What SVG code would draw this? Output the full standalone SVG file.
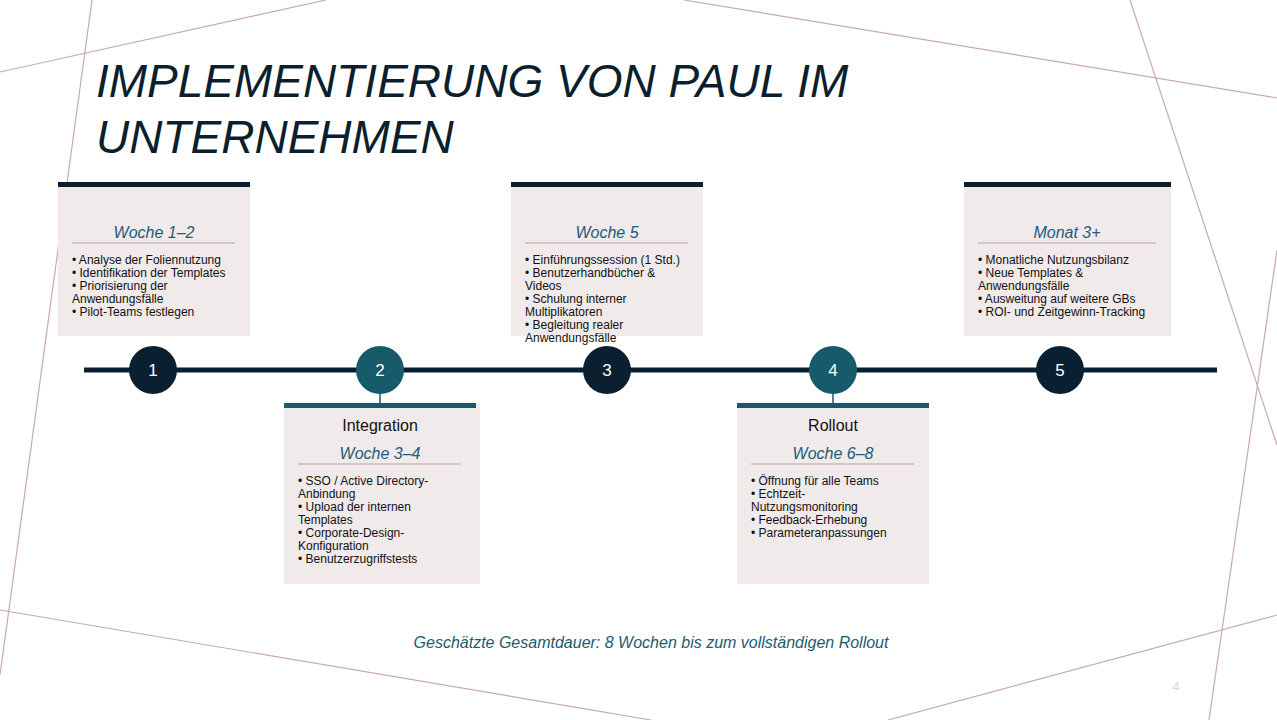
<svg xmlns="http://www.w3.org/2000/svg" width="1277" height="720" viewBox="0 0 1277 720">
<style>
.deco{stroke:#c9a9b2;stroke-width:1.2;fill:none}
.card{fill:#f0eaea}
.sep{stroke:#c39ea6;stroke-width:1}
.wk{font-family:"Liberation Sans",Arial,sans-serif;font-size:16px;font-style:italic;fill:#1e5b78;text-anchor:middle}
.ti{font-family:"Liberation Sans",Arial,sans-serif;font-size:16px;fill:#111;text-anchor:middle}
.b{font-family:"Liberation Sans",Arial,sans-serif;font-size:12px;fill:#111}
.num{font-family:"Liberation Sans",Arial,sans-serif;font-size:17px;fill:#fff;text-anchor:middle}
</style>
<rect width="1277" height="720" fill="#fff"/>
<g id="decor">
<line class="deco" x1="0" y1="72" x2="326" y2="0"/>
<line class="deco" x1="92" y1="0" x2="0" y2="675"/>
<line class="deco" x1="684" y1="0" x2="1277" y2="98"/>
<line class="deco" x1="1130" y1="0" x2="1277" y2="445"/>
<line class="deco" x1="0" y1="610" x2="651" y2="720"/>
<line class="deco" x1="888" y1="720" x2="1277" y2="615"/>
<line class="deco" x1="1277" y1="250" x2="1209" y2="720"/>
</g>
<text x="96" y="97" font-family="Liberation Sans,Arial,sans-serif" font-size="46" font-style="italic" fill="#0b1f2e">IMPLEMENTIERUNG VON PAUL IM</text>
<text x="96" y="153" font-family="Liberation Sans,Arial,sans-serif" font-size="46" font-style="italic" fill="#0b1f2e">UNTERNEHMEN</text>
<g id="connectors">
<line x1="84" y1="370" x2="1217" y2="370" stroke="#0a2030" stroke-width="5"/>
<line x1="380" y1="390" x2="380" y2="405" stroke="#175a6a" stroke-width="1.5"/>
<line x1="833" y1="390" x2="833" y2="405" stroke="#175a6a" stroke-width="1.5"/>
</g>
<g id="card1">
<rect class="card" x="58" y="182" width="192" height="154"/>
<rect x="58" y="182" width="192" height="5" fill="#0a2030"/>
<text class="wk" x="154" y="238">Woche 1–2</text>
<line class="sep" x1="72" y1="243" x2="235" y2="243"/>
<text class="b" x="72" y="264"> • Analyse der Foliennutzung</text>
<text class="b" x="72" y="277"> • Identifikation der Templates</text>
<text class="b" x="72" y="290"> • Priorisierung der</text>
<text class="b" x="72" y="303">Anwendungsfälle</text>
<text class="b" x="72" y="316"> • Pilot-Teams festlegen</text>
</g>
<g id="card3">
<rect class="card" x="511" y="182" width="192" height="154"/>
<rect x="511" y="182" width="192" height="5" fill="#0a2030"/>
<text class="wk" x="607" y="238">Woche 5</text>
<line class="sep" x1="525" y1="243" x2="688" y2="243"/>
<text class="b" x="525" y="264"> • Einführungssession (1 Std.)</text>
<text class="b" x="525" y="277"> • Benutzerhandbücher &amp;</text>
<text class="b" x="525" y="290">Videos</text>
<text class="b" x="525" y="303"> • Schulung interner</text>
<text class="b" x="525" y="316">Multiplikatoren</text>
<text class="b" x="525" y="329"> • Begleitung realer</text>
<text class="b" x="525" y="342">Anwendungsfälle</text>
</g>
<g id="card5">
<rect class="card" x="964" y="182" width="207" height="154"/>
<rect x="964" y="182" width="207" height="5" fill="#0a2030"/>
<text class="wk" x="1067" y="238">Monat 3+</text>
<line class="sep" x1="978" y1="243" x2="1156" y2="243"/>
<text class="b" x="978" y="264"> • Monatliche Nutzungsbilanz</text>
<text class="b" x="978" y="277"> • Neue Templates &amp;</text>
<text class="b" x="978" y="290">Anwendungsfälle</text>
<text class="b" x="978" y="303"> • Ausweitung auf weitere GBs</text>
<text class="b" x="978" y="316"> • ROI- und Zeitgewinn-Tracking</text>
</g>
<g id="card2">
<rect class="card" x="284" y="403" width="196" height="181"/>
<rect x="284" y="403" width="192" height="5" fill="#175a6a"/>
<text class="ti" x="380" y="431">Integration</text>
<text class="wk" x="380" y="459">Woche 3–4</text>
<line class="sep" x1="298" y1="464" x2="461" y2="464"/>
<text class="b" x="298" y="485"> • SSO / Active Directory-</text>
<text class="b" x="298" y="498">Anbindung</text>
<text class="b" x="298" y="511"> • Upload der internen</text>
<text class="b" x="298" y="524">Templates</text>
<text class="b" x="298" y="537"> • Corporate-Design-</text>
<text class="b" x="298" y="550">Konfiguration</text>
<text class="b" x="298" y="563"> • Benutzerzugriffstests</text>
</g>
<g id="card4">
<rect class="card" x="737" y="403" width="192" height="181"/>
<rect x="737" y="403" width="192" height="5" fill="#175a6a"/>
<text class="ti" x="833" y="431">Rollout</text>
<text class="wk" x="833" y="459">Woche 6–8</text>
<line class="sep" x1="751" y1="464" x2="914" y2="464"/>
<text class="b" x="751" y="485"> • Öffnung für alle Teams</text>
<text class="b" x="751" y="498"> • Echtzeit-</text>
<text class="b" x="751" y="511">Nutzungsmonitoring</text>
<text class="b" x="751" y="524"> • Feedback-Erhebung</text>
<text class="b" x="751" y="537"> • Parameteranpassungen</text>
</g>
<g id="m1"><circle cx="153" cy="370" r="24" fill="#0a2030"/><text class="num" x="153" y="376">1</text></g>
<g id="m2"><circle cx="380" cy="370" r="24" fill="#175a6a"/><text class="num" x="380" y="376">2</text></g>
<g id="m3"><circle cx="607" cy="370" r="24" fill="#0a2030"/><text class="num" x="607" y="376">3</text></g>
<g id="m4"><circle cx="833" cy="370" r="24" fill="#175a6a"/><text class="num" x="833" y="376">4</text></g>
<g id="m5"><circle cx="1060" cy="370" r="24" fill="#0a2030"/><text class="num" x="1060" y="376">5</text></g>
<text x="651" y="648" text-anchor="middle" font-family="Liberation Sans,Arial,sans-serif" font-size="16" font-style="italic" fill="#1e5b6c">Geschätzte Gesamtdauer: 8 Wochen bis zum vollständigen Rollout</text>
<text x="1176" y="691" text-anchor="middle" font-family="Liberation Sans,Arial,sans-serif" font-size="13" fill="#c9dde0">4</text>
</svg>
